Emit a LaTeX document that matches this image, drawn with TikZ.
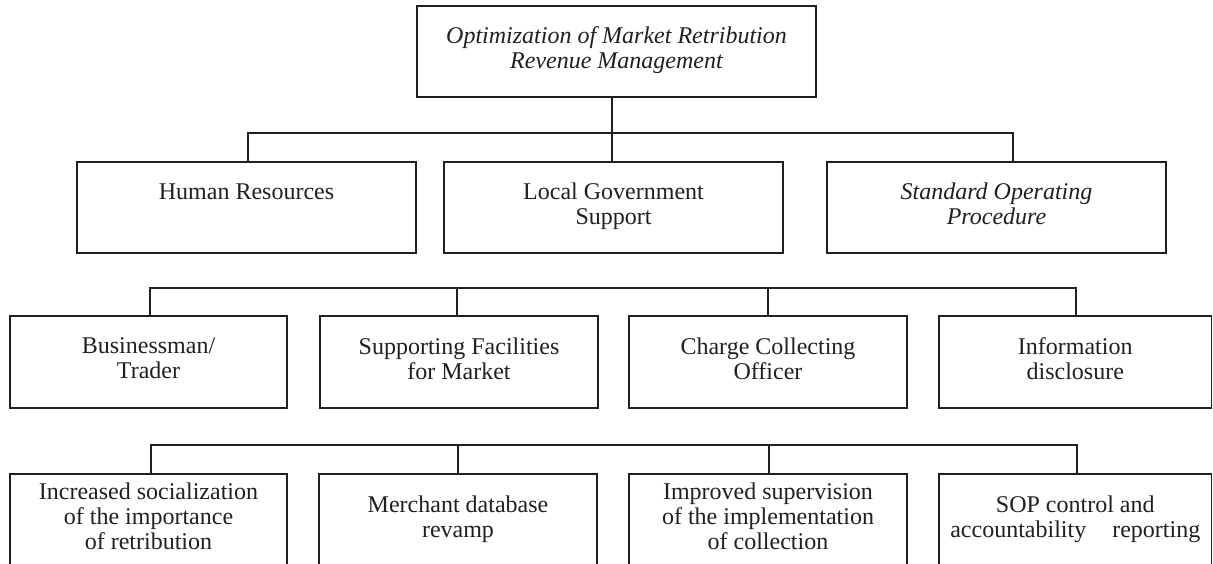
\documentclass[tikz,border=0pt]{standalone}
\usepackage{fontspec}
\setmainfont{Liberation Serif}
\definecolor{ink}{RGB}{35,31,32}
\begin{document}
\begin{tikzpicture}[x=1pt,y=-1pt,
  box/.style={draw=ink, line width=1.4pt, rectangle, inner sep=0pt, align=center,
    text=ink, font=\fontsize{24}{25}\selectfont,
    execute at begin node=\strut, execute at end node=\strut},
  link/.style={draw=ink, line width=1.4pt},
  r2/.style={minimum width=339pt, minimum height=91pt},
  r3/.style={minimum height=92pt}]
\useasboundingbox (0,0) rectangle (1213,564);
\fill[white] (0,0) rectangle (1213,564);

% top
\node[box, font=\fontsize{24}{25}\selectfont\itshape, minimum width=399pt, minimum height=91pt] (top) at (616.5,51.5)
  {Optimization of Market Retribution\\Revenue Management};

% row 2
\node[box, r2] (hr) at (246.5,207.5) {Human Resources\\\mbox{}};
\node[box, r2] (lg) at (613.5,207.5) {Local Government\\Support};
\node[box, r2, font=\fontsize{24}{25}\selectfont\itshape] (sop) at (996.5,207.5) {Standard Operating\\Procedure};

% row 3
\node[box, r3, minimum width=277pt] (bt) at (148.5,362) {Businessman/\\Trader};
\node[box, r3, minimum width=278pt] (sf) at (459,362) {Supporting Facilities\\for Market};
\node[box, r3, minimum width=278pt] (cc) at (768,362) {Charge Collecting\\Officer};
\node[box, r3, minimum width=272.5pt] (id) at (1075.25,362) {Information\\disclosure};

% row 4
\node[box, r3, minimum width=277pt] (is) at (148.5,520) {Increased socialization\\of the importance\\of retribution};
\node[box, r3, minimum width=278pt] (md) at (458,520) {Merchant database\\revamp};
\node[box, r3, minimum width=278pt] (ip) at (768,520) {Improved supervision\\of the implementation\\of collection};
\node[box, r3, minimum width=272.5pt] (sc) at (1075.25,520) {SOP control and\\accountability\hspace{20pt} reporting};

% connectors row 1 -> row 2
\coordinate (t0) at (612,133);
\coordinate (j1) at (248,133);
\coordinate (j3) at (1013,133);
\draw[link] (top.south -| t0) -- (t0) -- (lg.north -| t0);
\draw[link] (hr.north -| j1) -- (j1) -- (j3) -- (sop.north -| j3);

% bus row 3
\coordinate (k1) at (150,288);
\coordinate (k2) at (457,288);
\coordinate (k3) at (768,288);
\coordinate (k4) at (1076,288);
\draw[link] (bt.north -| k1) -- (k1) -- (k4) -- (id.north -| k4);
\draw[link] (k2) -- (sf.north -| k2);
\draw[link] (k3) -- (cc.north -| k3);

% bus row 4
\coordinate (m1) at (151,445);
\coordinate (m2) at (458,445);
\coordinate (m3) at (769,445);
\coordinate (m4) at (1077,445);
\draw[link] (is.north -| m1) -- (m1) -- (m4) -- (sc.north -| m4);
\draw[link] (m2) -- (md.north -| m2);
\draw[link] (m3) -- (ip.north -| m3);
\end{tikzpicture}
\end{document}
